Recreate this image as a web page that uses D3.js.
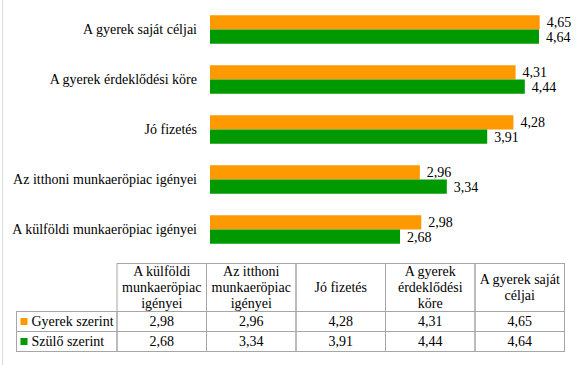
<!DOCTYPE html>
<html>
<head>
<meta charset="utf-8">
<script src="https://cdn.jsdelivr.net/npm/d3@7"></script>
<style>
  html, body { margin: 0; padding: 0; background: #fff; }
  svg text { font-family: 'Liberation Serif', 'Times New Roman', serif; }
</style>
</head>
<body>
<div id="chart"></div>
<script>
const W = 580, H = 365;
const FONT     = "'Liberation Serif', 'Times New Roman', serif";
const C_GYEREK = '#ff9900';
const C_SZULO  = '#009900';
const C_GRID   = '#a6a6a6';

// categories in table order (bottom -> top in the bar chart)
const categories = [
    'A külföldi munkaeröpiac igényei',
    'Az itthoni munkaeröpiac igényei',
    'Jó fizetés',
    'A gyerek érdeklődési köre',
    'A gyerek saját céljai'
];
const headerLines = [
    ['A külföldi', 'munkaeröpiac', 'igényei'],
    ['Az itthoni', 'munkaeröpiac', 'igényei'],
    ['Jó fizetés'],
    ['A gyerek', 'érdeklődési', 'köre'],
    ['A gyerek saját', 'céljai']
];
const seriesNames = ['Gyerek szerint', 'Szülő szerint'];
const gyerek = [2.98, 2.96, 4.28, 4.31, 4.65];
const szulo  = [2.68, 3.34, 3.91, 4.44, 4.64];

const series = [
    { name: seriesNames[0], values: gyerek, color: C_GYEREK },
    { name: seriesNames[1], values: szulo,  color: C_SZULO }
];
const fmt = v => d3.format('.2f')(v).replace('.', ',');

const svg = d3.select('#chart').append('svg')
    .attr('width', W)
    .attr('height', H)
    .style('display', 'block')
    .attr('font-family', FONT);

// chart frame (only left edge visible)
svg.append('line')
    .attr('x1', 2.5).attr('x2', 2.5).attr('y1', 0).attr('y2', H)
    .attr('stroke', '#d9d9d9');

// ---- bar chart ----
const x = d3.scaleLinear().domain([0, 5]).range([210, 564.5]);
const y = d3.scaleBand()
    .domain(categories.slice().reverse())
    .range([4.5, 254.5])
    .paddingInner(0.43)
    .paddingOuter(0.215);
const ySub = d3.scaleBand()
    .domain(seriesNames)
    .range([0, y.bandwidth()]);

const groups = svg.selectAll('.cat').data(categories).enter().append('g')
    .attr('class', 'cat')
    .attr('transform', d => `translate(0,${y(d)})`);

series.forEach(s => {
    groups.append('rect')
        .attr('x', x(0))
        .attr('y', ySub(s.name))
        .attr('width', (d, i) => x(s.values[i]) - x(0))
        .attr('height', ySub.bandwidth())
        .attr('fill', s.color);

    groups.append('text')
        .attr('x', (d, i) => x(s.values[i]) + 7)
        .attr('y', ySub(s.name) + ySub.bandwidth() / 2)
        .attr('dy', '0.35em')
        .attr('font-size', '14px')
        .attr('fill', '#000')
        .text((d, i) => fmt(s.values[i]));
});

const yAxis = svg.append('g')
    .attr('transform', `translate(${x(0)},0)`)
    .call(d3.axisLeft(y).tickSize(0).tickPadding(13))
    .attr('font-family', FONT)
    .attr('font-size', '14px');
yAxis.select('.domain').remove();
yAxis.selectAll('.tick text').attr('fill', '#000');

// ---- data table ----
const col = d3.scaleBand().domain(categories).range([117, 564.5]);
const tTop = 263.5, headH = 48, rowH = 20, labelLeft = 16.5;
const rowTop = i => tTop + headH + i * rowH;

const table = svg.append('g').attr('class', 'table');

// header cells
categories.forEach((c, i) => {
    table.append('rect')
        .attr('x', col(c)).attr('y', tTop)
        .attr('width', col.bandwidth()).attr('height', headH)
        .attr('fill', 'none').attr('stroke', C_GRID);
    const lines = headerLines[i];
    const cy = tTop + headH / 2;
    lines.forEach((ln, j) => {
        table.append('text')
            .attr('x', col(c) + col.bandwidth() / 2)
            .attr('y', cy + (j - (lines.length - 1) / 2) * 16)
            .attr('dy', '0.35em')
            .attr('text-anchor', 'middle')
            .attr('font-size', '14px')
            .text(ln);
    });
});

// series rows
series.forEach((s, r) => {
    table.append('rect')
        .attr('x', labelLeft).attr('y', rowTop(r))
        .attr('width', col(categories[0]) - labelLeft).attr('height', rowH)
        .attr('fill', 'none').attr('stroke', C_GRID);
    table.append('rect')
        .attr('x', labelLeft + 4).attr('y', rowTop(r) + rowH / 2 - 3.5)
        .attr('width', 7).attr('height', 7)
        .attr('fill', s.color);
    table.append('text')
        .attr('x', labelLeft + 15).attr('y', rowTop(r) + rowH / 2)
        .attr('dy', '0.35em')
        .attr('font-size', '14px')
        .text(s.name);

    categories.forEach((c, i) => {
        table.append('rect')
            .attr('x', col(c)).attr('y', rowTop(r))
            .attr('width', col.bandwidth()).attr('height', rowH)
            .attr('fill', 'none').attr('stroke', C_GRID);
        table.append('text')
            .attr('x', col(c) + col.bandwidth() / 2)
            .attr('y', rowTop(r) + rowH / 2)
            .attr('dy', '0.35em')
            .attr('text-anchor', 'middle')
            .attr('font-size', '14px')
            .text(fmt(s.values[i]));
    });
});
</script>
</body>
</html>
